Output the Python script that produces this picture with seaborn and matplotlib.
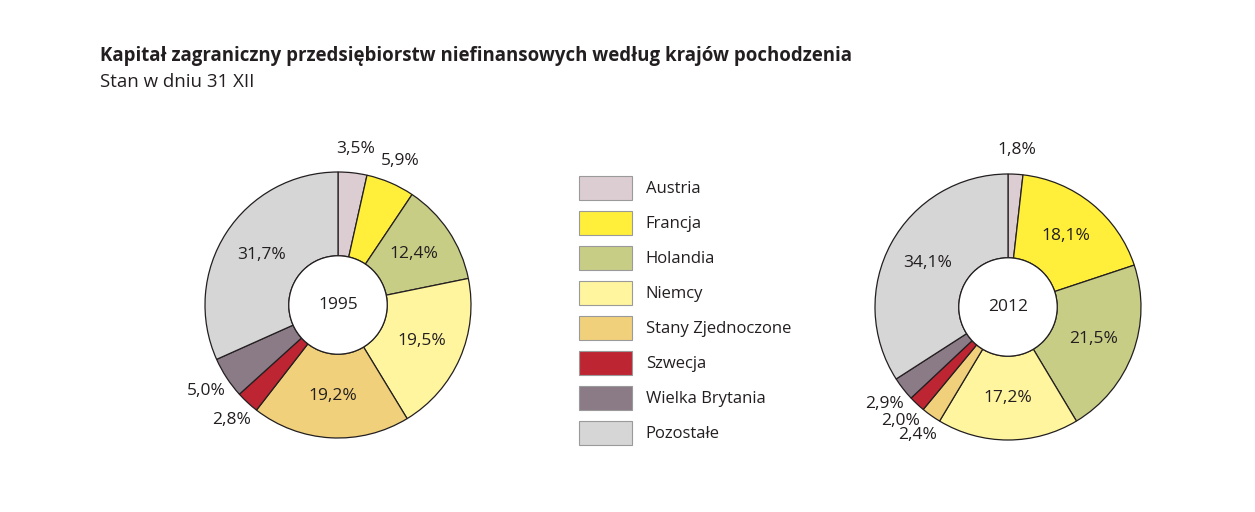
import matplotlib
matplotlib.use('Agg')
import numpy as np
import matplotlib.pyplot as plt
from matplotlib.patches import Patch
import seaborn as sns

countries = ['Austria', 'Francja', 'Holandia', 'Niemcy', 'Stany Zjednoczone',
             'Szwecja', 'Wielka Brytania', 'Pozostałe']
share_1995 = [3.5, 5.9, 12.4, 19.5, 19.2, 2.8, 5.0, 31.7]
share_2012 = [1.8, 18.1, 21.5, 17.2, 2.4, 2.0, 2.9, 34.1]
colors = ['#dccdd3', '#ffef3a', '#c8cd86', '#fff59e', '#f0d07a',
          '#be2532', '#8b7b87', '#d6d6d6']

sns.set_theme(style='white')
plt.rcParams['font.family'] = ['Open Sans', 'DejaVu Sans']
pal = sns.color_palette(colors)

W, H = 1255, 512
fig = plt.figure(figsize=(W / 100, H / 100), dpi=100)
fig.patch.set_facecolor('white')

fig.text(100 / W, 1 - 61 / H, 'Kapitał zagraniczny przedsiębiorstw niefinansowych według krajów pochodzenia',
         fontsize=13.4, fontweight='bold', color='#231f20', va='baseline')
fig.text(100 / W, 1 - 87 / H, 'Stan w dniu 31 XII', fontsize=13.4, color='#231f20', va='baseline')

R = 133
half = 1.3 * R
hole = 0.37
lab_fs = 12.5


def donut(cx, cy, values, year):
    ax = fig.add_axes([(cx - half) / W, (H - cy - half) / H, 2 * half / W, 2 * half / H])
    wedges, _ = ax.pie(values, colors=pal, startangle=90, counterclock=False,
                       wedgeprops=dict(width=1 - hole, edgecolor='#231f20', linewidth=0.9))
    for w, v in zip(wedges, values):
        ang = np.deg2rad((w.theta1 + w.theta2) / 2)
        txt = f'{v:.1f}%'.replace('.', ',')
        r = (1 + hole) / 2 if v >= 10 else 1.18
        ax.text(r * np.cos(ang), r * np.sin(ang), txt, ha='center', va='center',
                fontsize=lab_fs, color='#231f20')
    ax.add_patch(plt.Circle((0, 0), hole, facecolor='white', edgecolor='#231f20', linewidth=0.9))
    ax.text(0, 0, year, ha='center', va='center', fontsize=lab_fs, color='#231f20')
    ax.set_xlim(-1.3, 1.3)
    ax.set_ylim(-1.3, 1.3)
    ax.set_aspect('equal')
    ax.axis('off')


donut(338, 305, share_1995, '1995')
donut(1008, 307, share_2012, '2012')

handles = [Patch(facecolor=c, edgecolor='#9a9a9a', linewidth=0.8) for c in pal]
fs = 12
fig.legend(handles, countries, loc='upper left', bbox_to_anchor=(579 / W, 1 - 176 / H),
           frameon=False, fontsize=fs, handlelength=3.17, handleheight=1.84,
           labelspacing=0.66, handletextpad=0.84, borderpad=0, borderaxespad=0,
           labelcolor='#231f20')

fig.savefig('out.png', dpi=100)
